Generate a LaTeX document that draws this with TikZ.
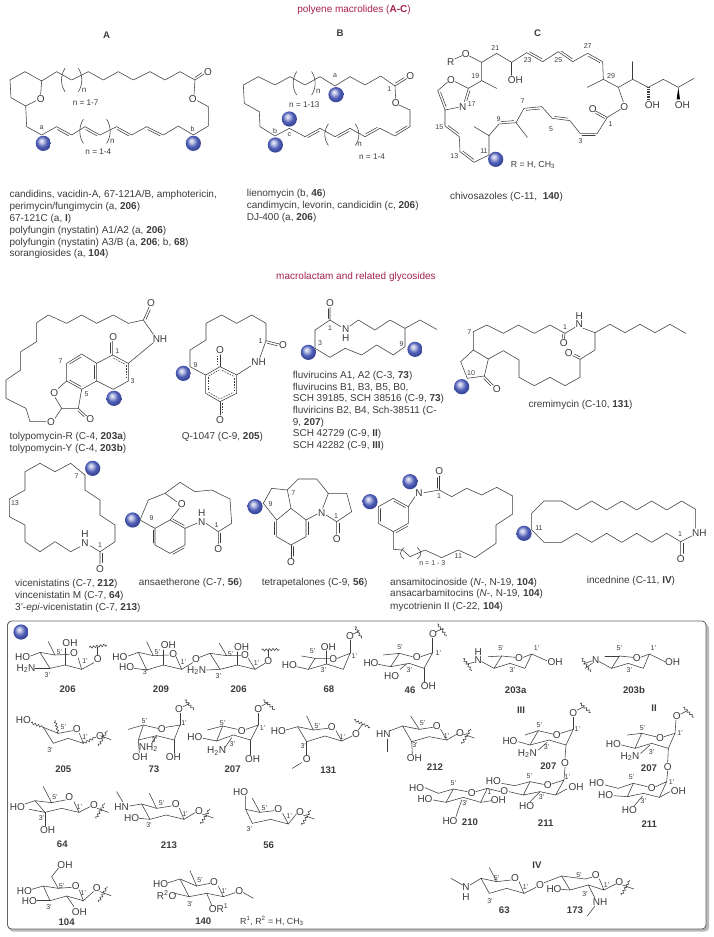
\documentclass[tikz,border=0pt]{standalone}
\usepackage{fontspec}
\setmainfont{Liberation Sans}
\usetikzlibrary{calc,decorations.pathmorphing}
\definecolor{ink}{HTML}{3C3C3C}
\definecolor{title}{HTML}{A5214F}
\definecolor{ballc}{HTML}{4050B0}
\pgfdeclareradialshading{bluesphere}{\pgfpoint{-7bp}{9bp}}{color(0bp)=(ballc!8!white); color(7bp)=(ballc!35!white); color(17bp)=(ballc!92!white); color(27bp)=(ballc!85!black); color(50bp)=(ballc!60!black)}
\tikzset{
 bd/.style={draw=ink,line width=.55pt,line cap=round,line join=round},
 dsh/.style={bd,line cap=butt,dash pattern=on 1.6pt off 1.2pt},
 wvy/.style={bd,decorate,decoration={snake,amplitude=1.2pt,segment length=3.4pt}},
 atom/.style={text=ink,inner sep=0pt,font=\fontsize{10}{11}\selectfont},
 loc/.style={text=ink,inner sep=0pt,font=\fontsize{7}{8}\selectfont},
 lab/.style={text=ink,inner sep=0pt,font=\fontsize{9.6}{11}\selectfont\bfseries},
 txt/.style={text=ink,inner sep=0pt,anchor=west,font=\fontsize{10}{11}\selectfont}
}
\def\DB(#1)(#2)#3{\draw[bd] ($(#1)!.12!(#2)!2.2pt!#3:(#2)$) -- ($(#2)!.12!(#1)!-2.2pt!#3:(#1)$);}
\def\DD(#1)(#2)#3{\draw[dsh] ($(#1)!.12!(#2)!2.4pt!#3:(#2)$) -- ($(#2)!.12!(#1)!-2.4pt!#3:(#1)$);}
\def\Atm(#1)#2{\node[atom] at (#1) {#2};}
\def\Loc(#1)#2{\node[loc] at (#1) {#2};}
\def\Lab(#1)#2{\node[lab] at (#1) {#2};}
\def\Txt(#1)#2{\node[txt] at (#1) {#2};}
\def\Ball(#1){\shade[shading=bluesphere] (#1) circle[radius=7.6pt];}
\def\WW(#1)(#2)(#3)(#4){\draw[bd] (#1)--(#2); \draw[wvy] (#3)--(#4);}
\def\WV(#1,#2){\begin{scope}[shift={(#1,#2)}]\draw[bd] (10,10)--(43,22); \draw[wvy] (6,40)--(32,-5);\end{scope}}
\def\Lp(#1,#2,#3){\draw[bd] (#1,#2) .. controls (#1-14,#2+.3*#3) and (#1-14,#2+.7*#3) .. (#1,#2+#3);}
\def\Rp(#1,#2,#3){\draw[bd] (#1,#2) .. controls (#1+14,#2+.3*#3) and (#1+14,#2+.7*#3) .. (#1,#2+#3);}
\newcommand\Zs[2]{\begin{scope}[shift={(#1,#2)},x=.33333pt,y=-.33333pt]}
\begin{document}
\begin{tikzpicture}[x=1pt,y=-1pt]
\useasboundingbox (0,0) rectangle (714,937);
\fill[white] (0,0) rectangle (714,937);
\node[text=title,inner sep=0pt,font=\fontsize{10}{11}\selectfont] at (354,10) {polyene macrolides (\textbf{A-C})};
\node[text=title,inner sep=0pt,font=\fontsize{10}{11}\selectfont] at (356,277) {macrolactam and related glycosides};

% ---------- A, B
\Zs{0}{0}
\Lab(320,107){A}
\draw[bd] (125,243)--(75,215)--(30,240)--(33,293)--(77,318)--(108,302);
\draw[bd] (125,243)--(122,283);
\Atm(122,296){O}
\draw[bd] (125,243)--(170,215)--(215,240)--(265,215)--(310,240)--(355,215)--(400,240)--(450,215)--(495,240)--(540,215)--(585,240)--(612,222);
\DB(585,240)(612,222){90}
\Atm(624,217){O}
\draw[bd] (585,240)--(582,283);
\Atm(578,296){O}
\draw[bd] (592,302)--(625,320)--(625,378)--(580,405)--(535,378)--(490,405)--(440,380)--(395,405)--(350,380)--(300,405)--(255,380)--(215,405)--(170,380)--(125,405)--(80,380)--(77,318);
\DB(170,380)(215,405){-90}\DB(255,380)(300,405){-90}\DB(350,380)(395,405){-90}\DB(440,380)(490,405){-90}
\Lp(195,205,70)\Rp(235,205,70)\Lp(250,358,72)\Rp(320,358,72)
\Loc(252,272){\fontsize{8}{9}\selectfont n}\Loc(337,425){\fontsize{8}{9}\selectfont n}
\Loc(257,308){\fontsize{8.2}{9}\selectfont n = 1-7}\Loc(295,456){\fontsize{8.2}{9}\selectfont n = 1-4}
\Loc(125,384){a}\Loc(578,388){b}
\Ball(130,430)\Ball(580,430)
\Txt(28,585){candidins, vacidin-A, 67-121A/B, amphotericin,}
\Txt(28,621){perimycin/fungimycin (a, \textbf{206})}
\Txt(28,657){67-121C (a, \textbf{I})}
\Txt(28,693){polyfungin (nystatin) A1/A2 (a, \textbf{206})}
\Txt(28,729){polyfungin (nystatin) A3/B (a, \textbf{206}; b, \textbf{68})}
\Txt(28,763){sorangiosides (a, \textbf{104})}
% B
\Lab(1020,100){B}
\draw[bd] (780,380)--(778,335)--(733,310)--(730,255)--(775,230)--(825,255)--(870,230)--(915,255)--(960,230)--(1005,258)--(1050,230)--(1095,255)--(1142,228)--(1185,258)--(1220,236);
\DB(1185,258)(1220,236){90}
\Atm(1231,228){O}
\draw[bd] (1185,258)--(1187,295);
\Atm(1187,308){O}
\draw[bd] (1197,315)--(1230,330)--(1230,380)--(1185,408)--(1140,385)--(1095,410)--(1050,385)--(1005,410)--(960,385)--(915,410)--(868,385)--(825,408)--(780,380);
\DB(915,410)(960,385){-90}\DB(1005,410)(1050,385){-90}\DB(1095,410)(1140,385){90}\DB(1185,408)(1230,380){90}
\Lp(890,215,70)\Rp(935,215,70)\Lp(985,372,64)\Rp(1066,372,64)
\Loc(955,275){\fontsize{8}{9}\selectfont n}\Loc(1079,432){\fontsize{8}{9}\selectfont n}
\Loc(913,313){\fontsize{8.2}{9}\selectfont n = 1-13}\Loc(1116,470){\fontsize{8.2}{9}\selectfont n = 1-4}
\Loc(1005,228){a}\Loc(825,392){b}\Loc(868,404){c}\Loc(1168,266){1}
\Ball(1008,284)\Ball(868,357)\Ball(826,435)
\Txt(740,583){lienomycin (b, \textbf{46})}
\Txt(740,619){candimycin, levorin, candicidin (c, \textbf{206})}
\Txt(740,654){DJ-400 (a, \textbf{206})}
\end{scope}

% ---------- C
\Zs{350}{0}
\Lab(563,101){C}
\Atm(302,185){R}\Atm(347,162){O}
\draw[bd] (314,177)--(336,167);
\draw[bd] (358,168)--(395,187)--(440,160)--(485,187)--(530,158)--(578,185)--(625,155)--(668,185)--(713,160)--(758,185)--(760,238)--(712,262);
\DB(530,158)(578,185){90}\DB(625,155)(668,185){90}\DB(713,160)(758,185){-90}
\draw[bd] (760,238)--(805,262)--(848,238)--(895,262)--(940,238)--(985,262)--(1032,235);
\draw[bd] (848,238)--(848,185);
\draw[line width=2.6pt,draw=ink,dash pattern=on .45pt off 1.2pt] (895,262)--(895,300);
\fill[black] (985,262)--(980,298)--(990,298)--cycle;
\Atm(907,314){OH}\Atm(997,314){OH}
\draw[bd] (805,262)--(820,306);
\Atm(823,320){O}
\draw[bd] (811,328)--(772,352)--(735,332);
\DB(772,352)(735,332){90}
\Atm(728,326){O}
\draw[bd] (772,352)--(742,400)--(690,400)--(660,362)--(607,355)--(575,320)--(522,325)--(498,368)--(447,372)--(417,407)--(372,380);
\DB(742,400)(690,400){90}\DB(660,362)(607,355){-90}\DB(575,320)(522,325){90}\DB(498,368)(447,372){-90}
\draw[bd] (498,368)--(532,412);
\draw[bd] (417,407)--(417,465)--(372,487)--(330,455)--(328,410)--(285,378)--(285,330);
\DB(372,487)(330,455){-90}\DB(328,410)(285,378){-90}
\draw[bd] (285,330)--(263,272)--(292,247);
\DB(285,330)(263,272){-90}
\draw[bd] (315,245)--(355,265)--(343,305);
\DB(355,265)(343,305){90}
\draw[bd] (285,330)--(325,322);
\Atm(303,240){O}\Atm(338,320){N}
\draw[bd] (355,265)--(395,242)--(395,187);
\draw[bd] (395,242)--(440,265);
\draw[bd] (485,187)--(485,226);
\Atm(496,240){OH}
\Loc(436,143){21}\Loc(376,228){19}\Loc(533,180){23}\Loc(625,180){25}\Loc(713,138){27}\Loc(783,227){29}
\Loc(782,371){1}\Loc(692,423){3}\Loc(603,387){5}\Loc(518,303){7}\Loc(446,358){9}\Loc(402,452){11}\Loc(313,468){13}\Loc(268,382){15}\Loc(365,313){17}
\Ball(437,478)
\Txt(482,495){\fontsize{8.8}{10}\selectfont R = H, CH$_{\mathrm 3}$}
\Txt(300,590){chivosazoles (C-11,\ \ \textbf{140})}
\end{scope}

% ---------- tolypomycin, Q-1047, fluvirucin
\Zs{0}{300}
\draw[bd] (447,22)--(430,60)--(385,70)--(340,45)--(290,70)--(245,45)--(200,70)--(145,45)--(110,68)--(110,125)--(62,155)--(62,210)--(18,240)--(18,295)--(78,325)--(90,365)--(138,365);
\DB(447,22)(430,60){90}
\Atm(453,10){O}
\draw[bd] (430,60)--(460,103);
\Atm(480,117){NH}
\Atm(153,367){O}
\draw[bd] (165,355)--(185,325)--(235,325)--(245,268)--(200,243)--(175,265);
\draw[bd] (185,325)--(165,292);
\Atm(163,278){O}
\draw[bd] (235,325)--(260,348);
\DB(235,325)(260,348){-90}
\Atm(271,358){O}
\draw[bd] (200,243)--(200,190)--(245,162)--(290,190)--(290,243)--(245,268);
\DB(200,190)(245,162){-90}\DB(290,190)(290,243){-90}\DB(245,268)(200,243){-90}
\draw[bd] (290,190)--(338,165)--(338,123);
\DB(338,165)(338,123){90}
\Atm(340,110){O}
\draw[bd] (338,165)--(385,190)--(385,243)--(340,268)--(290,243);
\DD(338,165)(385,190){-90}\DD(385,190)(385,243){-90}
\draw[bd] (385,190)--(460,128);
\Loc(182,183){7}\Loc(352,152){1}\Loc(398,243){3}\Loc(260,282){5}
\Ball(342,295)
\Txt(28,410){tolypomycin-R (C-4, \textbf{203a})}
\Txt(28,446){tolypomycin-Y (C-4, \textbf{203b})}
% Q-1047
\draw[bd] (617,225)--(570,200)--(570,150)--(618,120)--(618,70)--(665,45)--(710,70)--(755,45)--(798,70)--(798,122)--(838,132);
\DB(798,122)(838,132){-90}
\Atm(849,136){O}
\draw[bd] (798,122)--(780,172);
\Atm(776,187){NH}
\draw[bd] (752,198)--(710,225)--(660,200)--(617,225)--(617,280)--(660,305)--(710,280)--(710,225);
\DD(710,225)(660,200){90}\DD(660,200)(617,225){90}\DD(617,225)(617,280){90}\DD(617,280)(660,305){90}\DD(660,305)(710,280){90}\DD(710,280)(710,225){90}
\draw[bd] (660,200)--(660,164);\DD(660,200)(660,164){90}
\draw[bd] (660,305)--(660,345);\DD(660,305)(660,345){90}
\Atm(660,150){O}\Atm(660,360){O}
\Loc(782,122){1}\Loc(587,195){9}
\Ball(550,220)
\Txt(545,411){Q-1047 (C-9, \textbf{205})}
% fluvirucin
\draw[bd] (990,22)--(990,60)--(945,90)--(945,145)--(990,172)--(1035,145)--(1085,165)--(1130,135)--(1180,165)--(1215,140)--(1215,85)--(1170,60)--(1125,90)--(1075,60)--(1050,78);
\DB(990,22)(990,60){-90}
\Atm(990,8){O}
\draw[bd] (990,60)--(1022,80);
\Atm(1037,88){N}\Atm(1037,115){H}
\draw[bd] (1215,85)--(1260,60)--(1310,88);
\Loc(990,85){1}\Loc(960,128){3}\Loc(1205,132){9}
\Ball(925,157)\Ball(1245,148)
\Txt(878,227){fluvirucins A1, A2 (C-3, \textbf{73})}
\Txt(878,262){fluvirucins B1, B3, B5, B0,}
\Txt(878,297){SCH 39185, SCH 38516 (C-9, \textbf{73})}
\Txt(878,333){fluviricins B2, B4, Sch-38511 (C-}
\Txt(878,368){9, \textbf{207})}
\Txt(878,403){SCH 42729 (C-9, \textbf{II})}
\Txt(878,438){SCH 42282 (C-9, \textbf{III})}
\end{scope}

% ---------- cremimycin
\Zs{350}{300}
\draw[bd] (370,95)--(410,75)--(460,100)--(505,75)--(553,100)--(600,75)--(645,100)--(643,118);
\DB(645,100)(643,118){-90}
\Atm(641,128){O}
\draw[bd] (645,100)--(675,82);
\Atm(688,72){N}\Atm(688,47){H}
\draw[bd] (700,85)--(735,98)--(780,73)--(825,98)--(870,73)--(915,98)--(960,73)--(1007,100);
\draw[bd] (735,98)--(735,150)--(690,178)--(668,167);
\DB(690,178)(668,167){-90}
\Atm(656,160){O}
\draw[bd] (690,178)--(690,232)--(645,257)--(600,232)--(553,257)--(507,232)--(507,180)--(460,152)--(415,177)--(370,150)--(370,95);
\draw[bd] (415,177)--(403,228)--(352,235)--(332,185)--(370,150);
\draw[bd] (403,228)--(430,256);
\DB(403,228)(430,256){-90}
\Atm(440,268){O}
\Loc(358,97){7}\Loc(645,82){1}\Loc(363,218){10}
\Ball(335,260)
\Txt(535,314){cremimycin (C-10, \textbf{131})}
\end{scope}

% ---------- vicenistatin, ansaetherone, tetrapetalones
\Zs{0}{490}
\draw[bd] (240,170)--(212,185)--(165,155)--(120,185)--(75,155)--(75,105)--(28,80)--(28,27)--(75,0)--(75,-55)--(120,-80)--(165,-55)--(212,-80)--(255,-45)--(255,0)--(300,30)--(300,75)--(345,105)--(345,155)--(300,185)--(300,222);
\DB(300,185)(300,222){90}
\draw[bd] (300,185)--(270,167);
\Atm(255,158){N}\Atm(255,131){H}\Atm(300,237){O}
\Loc(45,40){13}\Loc(230,-42){7}\Loc(300,165){1}
\Ball(278,-65)
\Txt(45,283){vicenistatins (C-7, \textbf{212})}
\Txt(45,318){vincenistatin M (C-7, \textbf{64})}
\Txt(45,355){3'-\emph{epi}-vicenistatin (C-7, \textbf{213})}
% ansaetherone
\draw[bd] (465,115)--(420,90)--(445,30)--(495,10)--(540,-23)--(585,5)--(635,0)--(690,27)--(695,100)--(655,125)--(655,163);
\DB(655,125)(655,163){90}
\draw[bd] (495,10)--(530,35);
\Atm(545,42){O}
\draw[bd] (538,55)--(510,90)--(465,115)--(465,165)--(510,190)--(555,165)--(555,115)--(510,90);
\DB(465,115)(465,165){-90}\DB(510,190)(555,165){-90}\DB(555,115)(510,90){-90}
\draw[bd] (555,115)--(590,100);
\Atm(605,95){N}\Atm(605,70){H}
\draw[bd] (618,100)--(655,125);
\Atm(655,177){O}
\Loc(455,83){9}\Loc(650,105){1}
\Ball(398,90)
\Txt(416,280){ansaetherone (C-7, \textbf{56})}
% tetrapetalones
\draw[bd] (830,90)--(790,40)--(815,-5)--(862,0)--(873,55)--(830,90)--(830,140)--(873,165)--(918,140)--(918,90)--(873,55);
\DB(830,90)(830,140){-90}\DB(918,140)(918,90){-90}
\draw[bd] (862,0)--(895,-33)--(950,-33)--(985,10)--(1040,10)--(1055,65)--(1010,95)--(1010,133);
\DB(1010,95)(1010,133){90}
\draw[bd] (985,10)--(968,55);
\draw[bd] (918,90)--(952,72);
\draw[bd] (978,75)--(1010,95);
\Atm(965,68){N}\Atm(1010,147){O}
\draw[bd] (873,165)--(873,203);\DB(873,165)(873,203){90}
\Atm(873,215){O}
\Loc(880,10){7}\Loc(812,42){9}\Loc(1008,78){1}
\Ball(765,50)
\Txt(785,280){tetrapetalones (C-9, \textbf{56})}
\end{scope}

% ---------- ansamitocinoside, incednine
\Zs{350}{490}
\draw[bd] (222,8)--(268,0)--(305,20)--(350,-5)--(395,15)--(440,-8)--(488,18)--(488,72)--(438,105)--(438,160)--(375,203)--(325,180)--(275,203)--(225,180)--(180,200)--(158,180)--(130,178)--(130,125);
\draw[bd] (268,0)--(268,-42);\DB(268,0)(268,-42){90}
\Atm(268,-57){O}\Atm(207,10){N}
\draw[bd] (195,20)--(175,50)--(130,25)--(85,50)--(85,100)--(130,125)--(175,100)--(175,50);
\DB(85,50)(85,100){90}\DB(130,25)(175,50){-90}\DB(175,100)(130,125){90}
\Lp(162,173,34)\Rp(202,173,34)
\Loc(247,218){n = 1 - 3}\Loc(267,18){1}\Loc(325,198){11}
\Ball(60,35)\Ball(180,-25)
\Txt(120,278){ansamitocinoside (\emph{N}-, N-19, \textbf{104})}
\Txt(120,313){ansacarbamitocins (\emph{N}-, N-19, \textbf{104})}
\Txt(120,350){mycotrienin II (C-22, \textbf{104})}
% incednine
\draw[bd] (1037,115)--(1037,58)--(995,33)--(950,60)--(905,33)--(860,60)--(815,33)--(770,60)--(725,33)--(680,60)--(635,33)--(582,33)--(545,70)--(545,120)--(582,157)--(635,157)--(680,130)--(725,157)--(770,130)--(815,157)--(860,130)--(905,157)--(950,130)--(992,155)--(992,195);
\DB(992,155)(992,195){90}
\draw[bd] (992,155)--(1025,138);
\Atm(1048,130){NH}\Atm(992,208){O}
\Loc(567,115){11}\Loc(990,132){1}
\Ball(522,130)
\Txt(710,272){incednine (C-11, \textbf{IV})}
\end{scope}

% ---------- box
\fill[gray!55,rounded corners=4pt] (9,624) rectangle (709,931.5);
\draw[draw=ink!80,fill=white,line width=.9pt,rounded corners=4pt] (7.5,621) rectangle (706,929);
\Ball(21,632)

% ---------- sugars row 1 and 2 left
\Zs{0}{640}
% 206
\draw[bd] (92,48)--(120,37)--(165,45)--(208,43);
\draw[bd] (165,45)--(145,5);
\draw[bd] (120,37)--(150,85)--(195,75)--(245,88)--(235,55);
\draw[bd] (105,85)--(150,85);
\draw[bd] (195,75)--(195,25);
\draw[bd] (245,88)--(282,68);
\Atm(68,52){HO}\Atm(78,85){H$_{\mathrm 2}$N}\Atm(210,8){OH}\Atm(222,38){O}\Atm(293,57){O}
\WW(293,45)(293,22)(268,22)(320,15)
\Loc(178,37){5'}\Loc(142,105){3'}\Loc(255,62){1'}\Lab(203,148){206}
% 209
\draw[bd] (385,48)--(415,37)--(460,47)--(505,45);
\draw[bd] (460,47)--(440,5);
\draw[bd] (415,37)--(440,90)--(490,75)--(545,88)--(528,50);
\draw[bd] (403,85)--(440,90);
\draw[bd] (490,75)--(490,30);
\draw[bd] (545,88)--(578,68);
\Atm(360,52){HO}\Atm(380,82){HO}\Atm(505,14){OH}\Atm(520,42){O}\Atm(588,58){O}
\Loc(472,37){5'}\Loc(437,97){3'}\Loc(550,65){1'}\Lab(483,148){209}
\draw[bd] (598,52)--(630,40)--(680,47)--(722,47);
\draw[bd] (680,47)--(658,10);
\draw[bd] (630,40)--(660,88)--(712,75)--(765,88)--(745,55);
\draw[bd] (620,90)--(660,88);
\draw[bd] (712,75)--(712,35);
\draw[bd] (765,88)--(795,70);
\Atm(590,92){H$_{\mathrm 2}$N}\Atm(725,20){OH}\Atm(735,46){O}\Atm(805,62){O}
\WW(805,50)(805,30)(785,30)(838,28)
\Loc(692,42){5'}\Loc(655,108){3'}\Loc(770,68){1'}\Lab(716,148){206}
% 68
\draw[bd] (890,80)--(925,88)--(945,55)--(988,55);
\draw[bd] (905,48)--(945,55);
\draw[bd] (1012,55)--(1050,40)--(1030,88)--(980,72)--(925,88);
\draw[bd] (980,72)--(980,32);
\draw[bd] (1050,40)--(1050,0);
\Atm(868,75){HO}\Atm(985,20){OH}\Atm(1000,57){O}\Atm(1050,-12){O}
\WW(1060,-18)(1078,-28)(1065,-40)(1085,-5)
\Loc(938,32){5'}\Loc(970,90){3'}\Loc(1063,48){1'}\Lab(987,148){68}
% 205
\draw[bd] (130,262)--(175,280)--(218,272);
\draw[wvy] (93,248)--(130,262);
\draw[wvy] (175,280)--(165,240);
\draw[bd] (130,262)--(160,310)--(205,295)--(250,310)--(238,280);
\draw[wvy] (250,310)--(287,292);
\Atm(70,240){HO}\Atm(230,267){O}\Atm(300,287){O}
\WV(290,277)
\Loc(190,262){5'}\Loc(150,330){3'}\Loc(255,292){1'}\Lab(190,387){205}
% 73
\draw[bd] (385,268)--(430,255)--(473,265);
\draw[bd] (497,262)--(540,255)--(522,300)--(470,287)--(415,300)--(430,255);
\draw[bd] (540,255)--(540,220);
\draw[bd] (470,287)--(455,310);
\draw[bd] (415,300)--(418,338);
\draw[bd] (522,300)--(522,338);
\Atm(485,268){O}\Atm(537,207){O}\Atm(445,323){NH$_{\mathrm 2}$}\Atm(420,352){OH}\Atm(520,352){OH}
\WW(550,200)(568,190)(555,180)(582,210)
\Loc(433,243){5'}\Loc(463,300){3'}\Loc(552,248){1'}\Lab(462,388){73}
% 207
\draw[bd] (622,270)--(668,258)--(712,268);
\draw[bd] (738,268)--(775,255)--(752,300)--(700,285)--(650,303)--(668,258);
\draw[bd] (775,255)--(775,220);
\draw[bd] (610,295)--(650,303);
\draw[bd] (675,322)--(695,293);
\draw[bd] (752,300)--(752,345);
\Atm(725,272){O}\Atm(775,207){O}\Atm(585,292){HO}\Atm(650,333){H$_{\mathrm 2}$N}\Atm(758,358){OH}
\WW(785,198)(805,187)(790,180)(825,210)
\Loc(668,248){5'}\Loc(697,312){3'}\Loc(788,265){1'}\Lab(698,388){207}
% 131
\draw[bd] (858,270)--(893,260)--(940,270)--(983,265);
\draw[bd] (940,270)--(920,228);
\draw[bd] (893,260)--(920,305)--(975,288)--(1025,303)--(1008,272);
\draw[bd] (920,305)--(920,345);
\draw[bd] (905,368)--(877,385);
\draw[bd] (1025,303)--(1056,288);
\Atm(835,273){HO}\Atm(995,262){O}\Atm(920,358){O}\Atm(1068,282){O}
\WW(1075,270)(1088,252)(1062,240)(1110,262)
\Loc(952,258){5'}\Loc(910,317){3'}\Loc(1027,290){1'}\Lab(985,390){131}
\end{scope}

% ---------- sugars right
\Zs{350}{640}
% 46
\draw[bd] (85,73)--(122,80)--(148,40)--(187,50);
\draw[bd] (100,45)--(148,40);
\draw[bd] (212,50)--(248,38)--(222,85)--(178,70)--(122,80);
\draw[bd] (248,38)--(248,-5);
\draw[bd] (150,88)--(170,72);
\draw[bd] (222,85)--(222,125);
\Atm(63,70){HO}\Atm(125,107){HO}\Atm(200,52){O}\Atm(235,137){OH}\Atm(249,-18){O}
\WW(258,-25)(280,-35)(262,-48)(290,-12)
\Loc(150,22){5'}\Loc(178,90){3'}\Loc(265,38){1'}\Lab(180,150){46}
% 203a
\Atm(385,60){N}\Atm(385,35){H}
\draw[bd] (395,65)--(432,85)--(455,48)--(495,52);
\draw[bd] (415,50)--(455,48);
\draw[bd] (520,52)--(545,42)--(590,62);
\draw[bd] (545,42)--(525,85)--(480,70)--(432,85);
\Atm(507,55){O}\Atm(615,67){OH}
\WW(373,67)(350,72)(340,55)(365,92)
\Loc(453,25){5'}\Loc(487,90){3'}\Loc(560,25){1'}\Lab(497,150){203a}
% 203b
\Atm(737,60){N}
\draw[bd] (748,65)--(785,85)--(808,48)--(848,52);
\draw[bd] (765,48)--(808,48);
\draw[bd] (872,52)--(898,42)--(945,65);
\draw[bd] (898,42)--(880,85)--(835,70)--(785,85);
\Atm(860,55){O}\Atm(968,67){OH}
\WW(727,62)(700,72)(695,55)(722,95)
\draw[bd] (727,70)--(705,85);
\Loc(808,25){5'}\Loc(838,90){3'}\Loc(910,25){1'}\Lab(852,150){203b}
% 212
\draw[bd] (120,272)--(158,258)--(208,268)--(248,262);
\draw[bd] (113,297)--(113,335);
\draw[bd] (208,268)--(182,228);
\draw[bd] (158,258)--(185,305)--(238,290)--(290,300)--(272,268);
\draw[bd] (185,305)--(187,342);
\draw[bd] (290,300)--(320,283);
\Atm(100,283){HN}\Atm(260,258){O}\Atm(193,355){OH}\Atm(330,278){O}
\WV(330,272)
\Loc(218,250){5'}\Loc(195,315){3'}\Loc(290,287){1'}\Lab(255,382){212}
% III
\draw[bd] (505,305)--(540,315)--(565,272)--(608,282);
\draw[bd] (525,285)--(565,272);
\draw[bd] (632,280)--(670,268)--(648,315)--(597,300)--(540,315);
\draw[bd] (670,268)--(670,232);
\draw[bd] (565,330)--(590,308);
\draw[bd] (648,315)--(645,355);
\draw[bd] (645,382)--(642,420);
\Atm(480,302){HO}\Atm(620,285){O}\Atm(670,218){O}\Atm(532,340){H$_{\mathrm 2}$N}\Atm(645,368){O}
\WW(682,210)(702,200)(690,190)(722,218)
\Loc(568,255){5'}\Loc(590,322){3'}\Loc(682,267){1'}\Lab(513,210){III}\Lab(595,378){207}
% 211 (III)
\draw[bd] (455,430)--(495,437)--(540,425)--(580,433);
\draw[bd] (605,432)--(642,420)--(617,465)--(570,455)--(520,465)--(540,425);
\draw[bd] (617,465)--(650,447);
\draw[bd] (520,465)--(477,455);
\draw[bd] (570,455)--(540,485);
\Atm(430,422){HO}\Atm(593,435){O}\Atm(678,442){OH}\Atm(463,452){O}\Atm(530,497){HO}
\Loc(538,408){5'}\Loc(575,470){3'}\Loc(652,412){1'}\Lab(587,550){211}
% 210
\draw[bd] (225,443)--(265,460)--(310,447)--(352,455);
\draw[bd] (377,455)--(412,445)--(392,487)--(340,472)--(288,487)--(310,447);
\draw[bd] (412,445)--(450,455);
\draw[bd] (250,480)--(288,487);
\draw[bd] (392,487)--(425,482);
\draw[bd] (335,480)--(318,530);
\Atm(200,443){HO}\Atm(225,478){HO}\Atm(365,458){O}\Atm(445,480){OH}\Atm(300,543){HO}
\Loc(310,430){5'}\Loc(345,490){3'}\Loc(420,455){1'}\Lab(360,548){210}
% II
\draw[bd] (815,315)--(855,325)--(875,280)--(917,290);
\draw[bd] (832,285)--(875,280);
\draw[bd] (942,290)--(975,280)--(955,325)--(905,310)--(855,325);
\draw[bd] (975,280)--(978,240);
\draw[bd] (872,340)--(900,315);
\draw[bd] (955,325)--(953,367);
\draw[bd] (953,392)--(950,425);
\Atm(790,312){HO}\Atm(930,295){O}\Atm(980,228){O}\Atm(840,350){H$_{\mathrm 2}$N}\Atm(953,380){O}
\WW(992,222)(1012,212)(1000,202)(1032,232)
\Loc(878,265){5'}\Loc(905,337){3'}\Loc(990,280){1'}\Lab(912,205){II}\Lab(897,385){207}
% 211 (II)
\draw[bd] (765,435)--(805,445)--(850,430)--(892,440);
\draw[bd] (917,440)--(950,425)--(928,472)--(880,460)--(832,470)--(850,430);
\draw[bd] (928,472)--(960,455);
\draw[bd] (792,467)--(832,470);
\draw[bd] (878,468)--(852,498);
\Atm(740,430){HO}\Atm(767,465){HO}\Atm(905,445){O}\Atm(985,452){OH}\Atm(838,509){HO}
\Loc(845,412){5'}\Loc(880,483){3'}\Loc(965,425){1'}\Lab(898,551){211}
\end{scope}

% ---------- bottom left sugars
\Zs{0}{780}
% 64
\draw[bd] (75,72)--(105,62)--(155,68)--(196,60);
\draw[bd] (155,68)--(130,20);
\draw[bd] (105,62)--(135,97)--(185,85)--(237,97)--(222,65);
\draw[bd] (135,97)--(88,88);
\draw[bd] (135,97)--(135,137);
\draw[bd] (237,97)--(270,80);
\Atm(52,80){HO}\Atm(208,52){O}\Atm(143,150){OH}\Atm(282,75){O}
\WV(282,75)
\Loc(165,52){5'}\Loc(125,115){3'}\Loc(238,80){1'}\Lab(187,193){64}
% 213
\draw[bd] (350,35)--(368,65);
\draw[bd] (388,78)--(425,72)--(470,85)--(514,78);
\draw[bd] (470,85)--(448,40);
\draw[bd] (425,72)--(450,118)--(498,105)--(552,118)--(538,85);
\draw[bd] (418,115)--(450,118);
\draw[bd] (552,118)--(585,98);
\Atm(365,80){HN}\Atm(527,72){O}\Atm(395,113){HO}\Atm(597,92){O}
\WV(597,92)
\Loc(485,68){5'}\Loc(447,135){3'}\Loc(555,102){1'}\Lab(507,195){213}
% 56
\draw[bd] (737,48)--(737,88)--(780,97)--(822,92);
\draw[bd] (780,97)--(757,55);
\draw[bd] (737,88)--(757,130)--(812,118)--(865,132)--(848,100);
\draw[bd] (865,132)--(889,102);
\Atm(722,35){HO}\Atm(835,88){O}\Atm(900,95){O}
\WV(900,95)
\Loc(793,85){5'}\Loc(748,148){3'}\Loc(868,108){1'}\Lab(806,195){56}
% 104
\draw[bd] (95,328)--(130,318)--(175,325)--(214,322);
\draw[bd] (175,325)--(155,290)--(175,265);
\draw[bd] (130,318)--(150,362)--(200,348)--(250,362)--(238,330);
\draw[bd] (110,362)--(150,362);
\draw[bd] (200,348)--(222,380);
\draw[bd] (250,362)--(280,335);
\Atm(73,333){HO}\Atm(88,362){HO}\Atm(195,255){OH}\Atm(227,318){O}\Atm(238,395){OH}\Atm(290,325){O}
\WV(290,325)
\Loc(185,318){5'}\Loc(147,382){3'}\Loc(250,340){1'}\Lab(200,428){104}
% 140
\draw[bd] (505,308)--(540,297)--(590,318)--(630,310);
\draw[bd] (590,318)--(570,272);
\draw[bd] (540,297)--(567,350)--(620,340)--(670,350)--(655,318);
\draw[bd] (525,340)--(567,350);
\draw[bd] (620,340)--(635,375);
\draw[bd] (670,350)--(705,338);
\draw[bd] (730,338)--(760,355);
\Atm(482,312){HO}\Atm(500,345){R$^{\mathrm 2}$O}\Atm(642,305){O}\Atm(656,385){OR$^{\mathrm 1}$}\Atm(718,332){O}
\Loc(600,300){5'}\Loc(570,372){3'}\Loc(672,332){1'}\Lab(610,425){140}
\Txt(720,423){\fontsize{8.8}{10}\selectfont R$^{\mathrm 1}$, R$^{\mathrm 2}$ = H, CH$_{\mathrm 3}$}
\end{scope}

% ---------- IV
\Zs{350}{800}
\draw[bd] (303,235)--(338,255);
\draw[bd] (360,255)--(393,235)--(440,245)--(483,240);
\draw[bd] (440,245)--(418,203);
\draw[bd] (393,235)--(418,280)--(470,265)--(522,280)--(507,245);
\draw[bd] (522,280)--(558,262);
\draw[bd] (583,248)--(635,228)--(705,237)--(725,232);
\draw[bd] (635,228)--(660,270)--(715,255)--(762,270)--(748,237);
\draw[bd] (634,268)--(660,270);
\draw[bd] (715,255)--(735,295);
\draw[bd] (735,318)--(712,348);
\draw[bd] (762,270)--(797,252);
\Atm(348,262){N}\Atm(348,290){H}\Atm(495,235){O}\Atm(570,255){O}\Atm(737,225){O}\Atm(612,268){HO}\Atm(750,305){NH}\Atm(808,245){O}
\WV(808,245)
\Loc(440,235){5'}\Loc(420,303){3'}\Loc(527,262){1'}\Loc(687,225){5'}\Loc(705,283){3'}\Loc(770,255){1'}
\Lab(561,197){IV}\Lab(463,330){63}\Lab(675,330){173}
\end{scope}
\end{tikzpicture}
\end{document}
